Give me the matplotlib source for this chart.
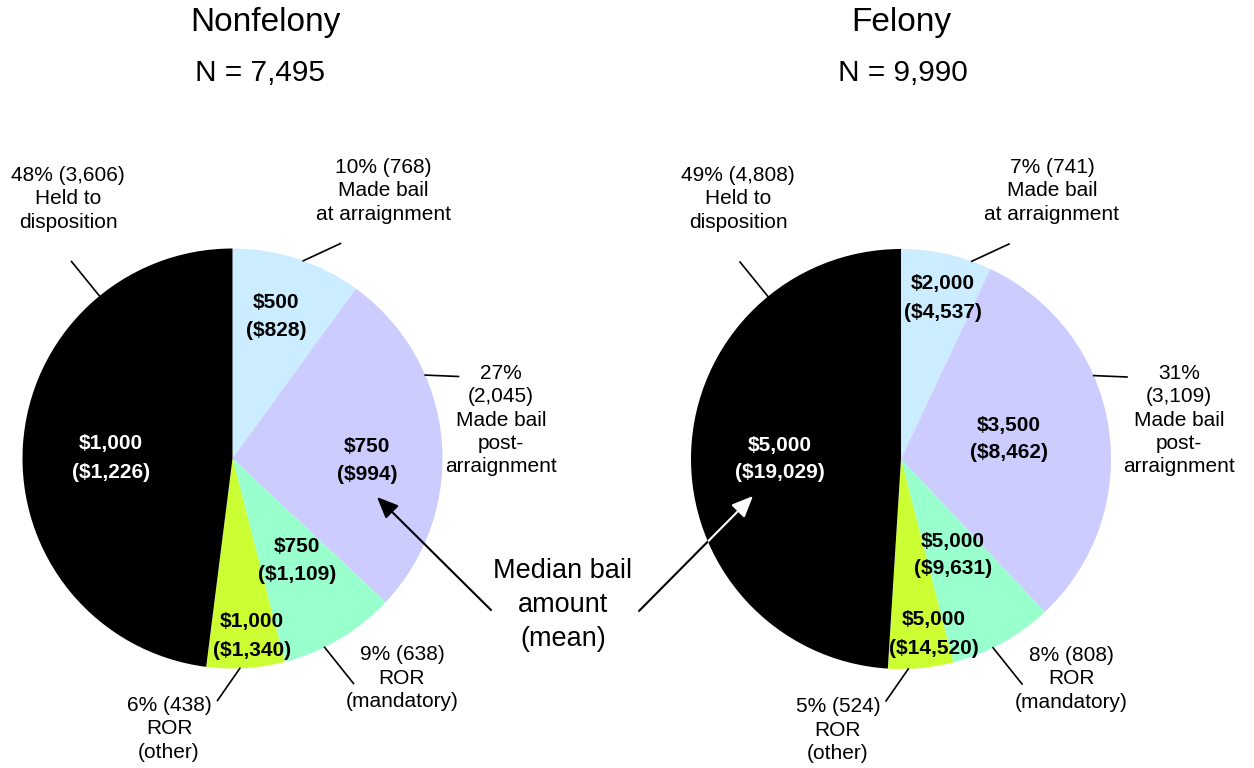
import numpy as np
import matplotlib.pyplot as plt

plt.rcParams['font.family'] = ['Liberation Sans', 'DejaVu Sans']

# slices run clockwise from 12 o'clock
outcomes = ['Made bail\nat arraignment', 'Made bail\npost-\narraignment',
            'ROR\n(mandatory)', 'ROR\n(other)', 'Held to\ndisposition']
colors = ['#CCECFF', '#CCCCFF', '#99FFCC', '#CCFF33', '#000000']

nonfelony_counts = [768, 2045, 638, 438, 3606]
nonfelony_pct = [10, 27, 9, 6, 48]
nonfelony_median = [500, 750, 750, 1000, 1000]
nonfelony_mean = [828, 994, 1109, 1340, 1226]

felony_counts = [741, 3109, 808, 524, 4808]
felony_pct = [7, 31, 8, 5, 49]
felony_median = [2000, 3500, 5000, 5000, 5000]
felony_mean = [4537, 8462, 9631, 14520, 19029]

# count goes on its own line for the post-arraignment slice
count_sep = [' ', '\n', ' ', ' ', ' ']

# layout (pixel space, y down)
radius = 210
leader_angles = [70.3, 23.4, -64.0, -88.0, 129.3]
leader_ends = [(108, -215), (226, -82), (121, 225), (-15, 242), (-161, -197)]

panels = [
    dict(title='Nonfelony', counts=nonfelony_counts, pct=nonfelony_pct,
         median=nonfelony_median, mean=nonfelony_mean,
         center=(232.5, 458.5), title_xy=(265, 23), n_xy=(260, 73),
         outer_xy=[(383, 191), (501, 420), (402, 678), (169, 729), (68, 199)],
         inner_xy=[(276, 316), (367, 460), (297, 561), (252, 636), (111, 458)]),
    dict(title='Felony', counts=felony_counts, pct=felony_pct,
         median=felony_median, mean=felony_mean,
         center=(901, 459), title_xy=(901, 23), n_xy=(903, 73),
         outer_xy=[(1052, 191), (1179, 420), (1071, 679), (838, 730), (738, 199)],
         inner_xy=[(943, 298), (1009, 439), (953, 555), (934, 634), (780, 459)]),
]

fig = plt.figure(figsize=(12.54, 7.68), dpi=100)
ax = fig.add_axes([0, 0, 1, 1])

all_wedges = []
for p in panels:
    cx, cy = p['center']
    # y axis is inverted, so startangle=-90 with counterclock=True draws
    # clockwise from the top on screen
    wedges, _ = ax.pie(p['pct'], colors=colors, startangle=-90, counterclock=True,
                       radius=radius, center=(cx, cy), frame=True,
                       wedgeprops=dict(linewidth=0))
    all_wedges.append(wedges)

    ax.text(*p['title_xy'], p['title'], ha='center', va='center', fontsize=24)
    ax.text(*p['n_xy'], f"N = {sum(p['counts']):,}", ha='center', va='center', fontsize=21.5)

    for i, name in enumerate(outcomes):
        a = np.deg2rad(leader_angles[i])
        x0, y0 = cx + radius * np.cos(a), cy - radius * np.sin(a)
        ex, ey = leader_ends[i]
        ax.plot([x0, cx + ex], [y0, cy + ey], color='black', lw=1.2)

        label = f"{p['pct'][i]}%{count_sep[i]}({p['counts'][i]:,})\n{name}"
        ax.text(*p['outer_xy'][i], label, ha='center', va='center', fontsize=15,
                linespacing=1.28)

        txt_color = 'white' if colors[i] == '#000000' else 'black'
        ax.text(*p['inner_xy'][i], f"${p['median'][i]:,}\n(${p['mean'][i]:,})",
                ha='center', va='center', fontsize=15, fontweight='bold',
                color=txt_color, linespacing=1.6)

ax.text(563, 605, 'Median bail\namount\n(mean)', ha='center', va='center',
        fontsize=19.5, linespacing=1.4)

arrow_kw = dict(arrowstyle='-|>,head_length=0.65,head_width=0.28', lw=1.5,
                shrinkA=0, shrinkB=0, mutation_scale=20)
ax.annotate('', xy=(377, 497), xytext=(491, 610),
            arrowprops=dict(color='black', **arrow_kw))
ax.annotate('', xy=(753, 496), xytext=(639, 611),
            arrowprops=dict(color='black', **arrow_kw))
# the part of the arrow lying on the black slice is drawn white
white = ax.annotate('', xy=(753, 496), xytext=(639, 611),
                    arrowprops=dict(color='white', **arrow_kw))
white.arrow_patch.set_clip_path(all_wedges[1][4])

ax.set_xlim(0, 1254)
ax.set_ylim(768, 0)
ax.set_aspect('equal')
ax.axis('off')

fig.savefig('out.png', dpi=100)
